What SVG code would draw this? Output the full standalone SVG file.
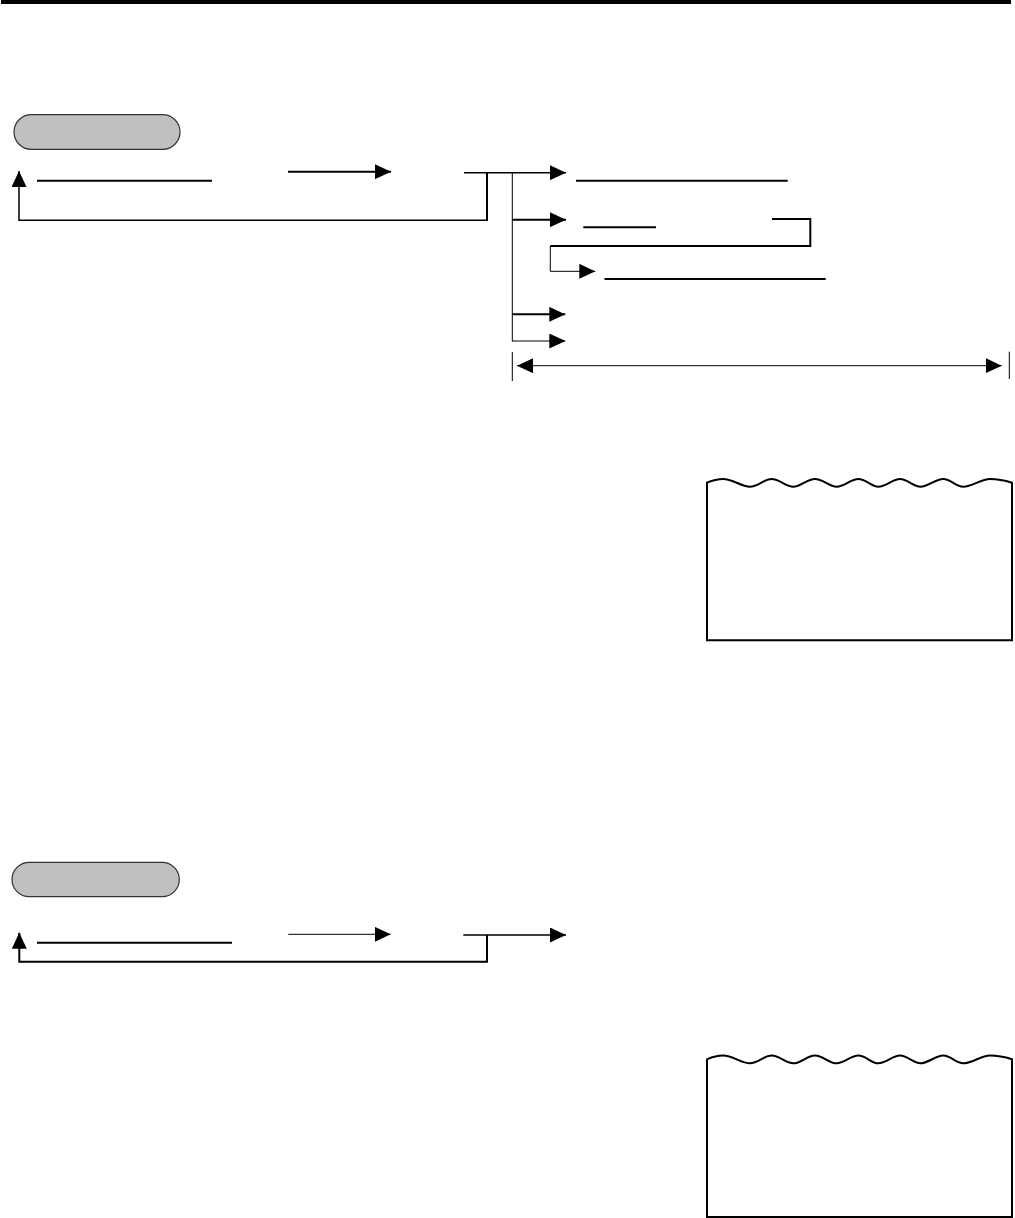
<svg xmlns="http://www.w3.org/2000/svg" width="1015" height="1218" viewBox="0 0 1015 1218">
<style>
.pill{fill:#c0c0c0;stroke:#333;stroke-width:1.2}
.c{fill:none;stroke:#000;stroke-linejoin:miter;stroke-linecap:butt}
.ul{stroke:#000;stroke-width:2}
.rc{fill:#fff;stroke:#000;stroke-width:2}
</style>
<defs>
<marker id="ah" markerUnits="userSpaceOnUse" markerWidth="16" markerHeight="15" refX="16" refY="7.5" orient="auto-start-reverse" viewBox="0 0 16 15">
<path d="M0,0 L16,7.5 L0,15 Z" fill="#000"/>
</marker>
<path id="wave" d="M707,482.7 C713,480.2 717,479 723,479 C733,479 741,486.7 750,486.7 C758,486.7 764,479 771.7,479 C779.5,479 785.5,486.7 793.3,486.7 C801,486.7 807,479 815,479 C823,479 829,486.7 836.7,486.7 C844,486.7 851,479 858.3,479 C866,479 871,486.7 878.3,486.7 C886,486.7 892.5,479 900,479 C907.5,479 913,486.7 920.5,486.7 C928,486.7 935.5,479 943.3,479 C951,479 955.5,486.7 963.3,486.7 C972,486.7 981,479 990,479 C998,479 1005,480.5 1012,482.7 L1012,640.3 L707,640.3 Z"/>
</defs>
<rect x="1" y="0" width="1010" height="4" fill="#000"/>

<g id="pill1"><rect class="pill" x="14" y="114.7" width="166" height="34.6" rx="17.3"/></g>
<g id="pill2"><rect class="pill" x="12" y="862.3" width="167.3" height="34.4" rx="17.2"/></g>

<g id="field1"><line class="ul" x1="37" y1="180.7" x2="212" y2="180.7"/></g>
<g id="field2"><line class="ul" x1="576" y1="180.7" x2="787.7" y2="180.7"/></g>
<g id="field3"><line class="ul" x1="583.3" y1="227.3" x2="656" y2="227.3" stroke-width="1.5"/></g>
<g id="field4"><line class="ul" x1="604.5" y1="279" x2="825.7" y2="279" stroke-width="1.5"/></g>
<g id="field5"><line class="ul" x1="37" y1="942.7" x2="232" y2="942.7"/></g>

<g id="receipt1"><use href="#wave" class="rc"/></g>
<g id="receipt2"><use href="#wave" class="rc" transform="translate(0,576.6)"/></g>

<g id="connectors">
<path class="c" stroke-width="1.5" d="M487,220.3 H19 V171" marker-end="url(#ah)"/>
<path class="c" stroke-width="2" d="M487,172.7 V221"/>
<path class="c" stroke-width="1.5" d="M464,172.7 H566" marker-end="url(#ah)"/>
<path class="c" stroke-width="2" d="M288,171.7 H391" marker-end="url(#ah)"/>
<path class="c" stroke-width="1" d="M512.3,172.7 V341.5"/>
<path class="c" stroke-width="2" d="M512.3,219.7 H566" marker-end="url(#ah)"/>
<path class="c" stroke-width="2" d="M512.3,314.3 H565.3" marker-end="url(#ah)"/>
<path class="c" stroke-width="1" d="M512.3,341 H565.3" marker-end="url(#ah)"/>
<path class="c" stroke-width="2" d="M772,219 H810.3 V246 H550.3"/>
<path class="c" stroke-width="1" d="M550.3,246 V271.3 H595.3" marker-end="url(#ah)"/>
<path class="c" stroke-width="1" d="M517,365.7 H1001.7" marker-start="url(#ah)" marker-end="url(#ah)"/>
<path class="c" stroke-width="1" d="M512.3,352 V381 M1009.3,351.7 V379"/>
<path class="c" stroke-width="1.5" d="M463.3,935 H566" marker-end="url(#ah)"/>
<path class="c" stroke-width="2" d="M487,935 V961.7 H19.3 V932.7" marker-end="url(#ah)"/>
<path class="c" stroke-width="1" d="M288.3,934.3 H390.7" marker-end="url(#ah)"/>
</g>
</svg>
